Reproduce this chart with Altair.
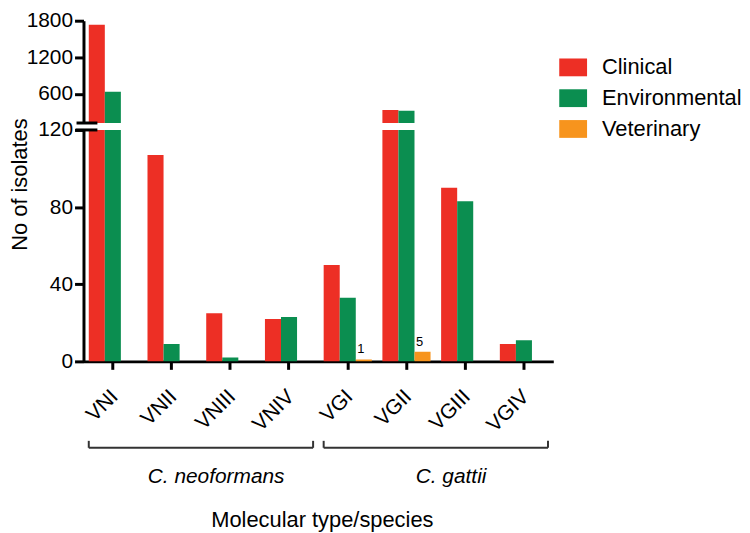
import altair as alt
import pandas as pd

types = ["VNI", "VNII", "VNIII", "VNIV", "VGI", "VGII", "VGIII", "VGIV"]
clinical = [1735, 107, 25, 22, 50, 335, 90, 9]
environmental = [635, 9, 2, 23, 33, 320, 83, 11]
veterinary = [0, 0, 0, 0, 1, 5, 0, 0]
sources = ["Clinical", "Environmental", "Veterinary"]
colors = ["#ed2f25", "#0b8e50", "#f7941d"]

species = ["C. neoformans", "C. gattii"]
species_start = ["VNI", "VGI"]
species_end = ["VNIV", "VGIV"]
species_mid = ["VNIII", "VGIII"]

upper_ticks = [600, 1200, 1800]
lower_ticks = [0, 40, 80, 120]
break_value = 120

rows = []
for i, t in enumerate(types):
    for s, vals in zip(sources, [clinical, environmental, veterinary]):
        rows.append({"type": t, "source": s, "value": vals[i]})
df = pd.DataFrame(rows)
df_up = df[df["value"] > break_value]
df_vet = df[(df["source"] == "Veterinary") & (df["value"] > 0)].copy()
df_vet["label"] = df_vet["value"].astype(str)
br = pd.DataFrame({"start": species_start, "end": species_end,
                   "mid": species_mid, "name": species})
brk = pd.DataFrame({"v": [break_value]})

W = 473
H_UP = 103
H_LOW = 233
FONT = "Liberation Sans"

xscale = alt.Scale(domain=types, paddingInner=0.18, paddingOuter=0.09)
offscale = alt.Scale(domain=sources, paddingInner=0, paddingOuter=0)
cscale = alt.Scale(domain=sources, range=colors)

axis_common = dict(domainWidth=3, domainColor="black", tickWidth=3,
                   tickColor="black", labelColor="black", labelFont=FONT,
                   labelFontSize=21, grid=False, title=None)

legend = alt.Legend(orient="none", legendX=479, legendY=33, title=None,
                    symbolType="M-1,-0.64H1V0.64H-1Z", symbolSize=784,
                    symbolStrokeWidth=0, symbolOpacity=1,
                    labelFontSize=22, labelFont=FONT, labelColor="black",
                    labelOffset=15, rowPadding=6, padding=0)

# ---- upper panel ----
bars_up = alt.Chart(df_up).mark_bar(clip=True).encode(
    x=alt.X("type:N", scale=xscale, axis=None),
    xOffset=alt.XOffset("source:N", scale=offscale),
    y=alt.Y("value:Q", scale=alt.Scale(domain=[break_value, 1800], nice=False, zero=False),
            axis=alt.Axis(values=upper_ticks, format="d", tickSize=9, labelPadding=2,
                          **axis_common)),
    y2=alt.datum(break_value),
    color=alt.Color("source:N", scale=cscale, legend=legend),
)
brk_up = alt.Chart(brk).mark_rule(strokeWidth=3, color="black").encode(
    y=alt.Y("v:Q", title=None), x=alt.value(-7), x2=alt.value(14))
upper = alt.layer(bars_up, brk_up).properties(width=W, height=H_UP)

# ---- lower panel ----
bars_low = alt.Chart(df).mark_bar(clip=True).encode(
    x=alt.X("type:N", scale=xscale,
            axis=alt.Axis(labelAngle=-45, labelAlign="right", labelBaseline="middle",
                          tickSize=8, labelPadding=24, labelOffset=2, **axis_common)),
    xOffset=alt.XOffset("source:N", scale=offscale),
    y=alt.Y("value:Q", scale=alt.Scale(domain=[0, break_value], nice=False),
            axis=alt.Axis(values=lower_ticks, format="d", tickSize=9, labelPadding=2,
                          **axis_common)),
    color=alt.Color("source:N", scale=cscale, legend=legend),
)
vet_text = alt.Chart(df_vet).mark_text(fontSize=13, font=FONT, color="black",
                                       baseline="bottom", dy=-3, dx=-3).encode(
    x=alt.X("type:N", scale=xscale, title=None),
    xOffset=alt.XOffset("source:N", scale=offscale),
    y=alt.Y("value:Q", title=None),
    text="label:N",
)
brk_low = alt.Chart(brk).mark_rule(strokeWidth=3, color="black").encode(
    y=alt.Y("v:Q", title=None), x=alt.value(-8), x2=alt.value(14))

br_h = alt.Chart(br).mark_rule(strokeWidth=2, color="#333333").encode(
    x=alt.X("start:N", scale=xscale, bandPosition=0, title=None),
    x2=alt.X2("end", bandPosition=1),
    y=alt.value(320),
)
br_l = alt.Chart(br).mark_rule(strokeWidth=2, color="#333333").encode(
    x=alt.X("start:N", scale=xscale, bandPosition=0, title=None),
    y=alt.value(313), y2=alt.value(320),
)
br_r = alt.Chart(br).mark_rule(strokeWidth=2, color="#333333").encode(
    x=alt.X("end:N", scale=xscale, bandPosition=1, title=None),
    y=alt.value(313), y2=alt.value(320),
)
sp_text = alt.Chart(br).mark_text(fontSize=21, font=FONT, fontStyle="italic",
                                  color="black", dx=10, baseline="middle").encode(
    x=alt.X("mid:N", scale=xscale, bandPosition=0, title=None),
    y=alt.value(349),
    text="name:N",
)
xtitle = alt.Chart(pd.DataFrame({"t": ["Molecular type/species"]})).mark_text(
    fontSize=22, font=FONT, color="black", baseline="middle").encode(
    x=alt.value(W / 2 + 4), y=alt.value(393), text="t:N")
ytitle = alt.Chart(pd.DataFrame({"t": ["No of isolates"]})).mark_text(
    fontSize=22, font=FONT, color="black", baseline="middle", angle=270).encode(
    x=alt.value(-64), y=alt.value(55), text="t:N")

lower = alt.layer(bars_low, vet_text, brk_low, br_h, br_l, br_r, sp_text,
                  xtitle, ytitle).properties(width=W, height=H_LOW)

chart = alt.vconcat(upper, lower, spacing=7, bounds="flush").properties(
    padding=0
).configure(font=FONT).configure_view(stroke=None)

chart.save("out.html", embed_options={"renderer": "svg", "actions": False})
